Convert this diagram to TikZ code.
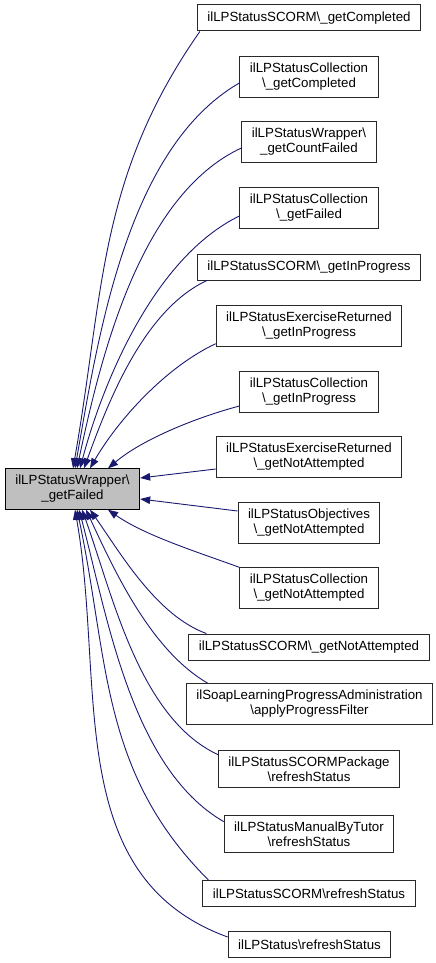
\documentclass[tikz,border=0pt]{standalone}
\usepackage{fontspec}
\setmainfont{Liberation Sans}
\usepackage{tikz}
\usetikzlibrary{arrows.meta,positioning}
\usepackage{xcolor}
\definecolor{EdgeB} {RGB}{25,  25, 112}
\definecolor{GrayF} {RGB}{191,191,191}
\definecolor{LineD} {RGB}{40,  40,  40}

\begin{document}
\begin{tikzpicture}[x=1pt,y=1pt,
    box/.style={draw=LineD,line width=1pt,fill=white,align=center,
      inner xsep=10pt,inner ysep=6.5pt,minimum height=26pt,
      font=\fontsize{13.3}{15}\selectfont},
    callee/.style={box,fill=GrayF,draw=black},
    call/.style={draw=EdgeB,line width=0.9pt,
      -{Triangle[length=10pt,width=7.5pt]}}]
  \useasboundingbox (0,0) rectangle (436,-963);
  \node[callee] (main) at (72.5,-489) {ilLPStatusWrapper\textbackslash\\\_getFailed};
  \node[box] (n1)  at (309,-18)    {ilLPStatusSCORM\textbackslash\_getCompleted};
  \node[box] (n2)  at (309,-77)    {ilLPStatusCollection\\\textbackslash\_getCompleted};
  \node[box] (n3)  at (309,-142)   {ilLPStatusWrapper\textbackslash\\\_getCountFailed};
  \node[box] (n4)  at (309,-208)   {ilLPStatusCollection\\\textbackslash\_getFailed};
  \node[box] (n5)  at (309,-267)   {ilLPStatusSCORM\textbackslash\_getInProgress};
  \node[box] (n6)  at (309,-326)   {ilLPStatusExerciseReturned\\\textbackslash\_getInProgress};
  \node[box] (n7)  at (309,-392)   {ilLPStatusCollection\\\textbackslash\_getInProgress};
  \node[box] (n8)  at (309,-457)   {ilLPStatusExerciseReturned\\\textbackslash\_getNotAttempted};
  \node[box] (n9)  at (309,-523)   {ilLPStatusObjectives\\\textbackslash\_getNotAttempted};
  \node[box] (n10) at (309,-588)   {ilLPStatusCollection\\\textbackslash\_getNotAttempted};
  \node[box] (n11) at (309,-647)   {ilLPStatusSCORM\textbackslash\_getNotAttempted};
  \node[box] (n12) at (309.5,-704) {ilSoapLearningProgressAdministration\\\textbackslash applyProgressFilter};
  \node[box] (n13) at (309,-769)   {ilLPStatusSCORMPackage\\\textbackslash refreshStatus};
  \node[box] (n14) at (309,-834)   {ilLPStatusManualByTutor\\\textbackslash refreshStatus};
  \node[box] (n15) at (309,-893.5) {ilLPStatusSCORM\textbackslash refreshStatus};
  \node[box] (n16) at (309.5,-944.5) {ilLPStatus\textbackslash refreshStatus};

  \draw[call] ([xshift=3pt]n1.south west) to[out=235,in=80] ([xshift=0.5pt]main.north);
  \draw[call] ([yshift=-6pt]n2.west) to[out=210,in=80,looseness=0.8] ([xshift=2.5pt]main.north);
  \draw[call] ([yshift=-6pt]n3.west) to[out=205,in=78,looseness=0.8] ([xshift=4.5pt]main.north);
  \draw[call] ([yshift=-8pt]n4.west) to[out=206,in=75,looseness=0.8] ([xshift=7.5pt]main.north);
  \draw[call] ([xshift=10pt]n5.south west) to[out=205,in=70,looseness=0.8] ([xshift=11.5pt]main.north);
  \draw[call] ([yshift=3pt]n6.south west) to[out=205,in=60,looseness=0.8] ([xshift=17.5pt]main.north);
  \draw[call] ([yshift=-14pt]n7.west) to[out=195,in=40,looseness=0.8] ([xshift=35.5pt]main.north);
  \draw[call] ([yshift=-12pt]n8.west) -- ([yshift=11pt]main.east);
  \draw[call] ([yshift=12pt]n9.west) -- ([yshift=-10pt]main.east);
  \draw[call] (n10.north west) to[out=160,in=-35,looseness=0.8] ([xshift=35.5pt]main.south);
  \draw[call] ([xshift=18pt]n11.north west) to[out=160,in=-55,looseness=0.8] ([xshift=17.5pt]main.south);
  \draw[call] ([xshift=22pt]n12.north west) to[out=150,in=-65,looseness=0.8] ([xshift=13.5pt]main.south);
  \draw[call] ([yshift=-5pt]n13.north west) to[out=155,in=-70,looseness=0.8] ([xshift=9.5pt]main.south);
  \draw[call] ([yshift=-7pt]n14.north west) to[out=150,in=-75,looseness=0.8] ([xshift=6.5pt]main.south);
  \draw[call] ([xshift=6pt]n15.north west) to[out=135,in=-78] ([xshift=4.5pt]main.south);
  \draw[call] ([yshift=-6pt]n16.north west) to[out=160,in=-80] ([xshift=2.5pt]main.south);
\end{tikzpicture}
\end{document}
